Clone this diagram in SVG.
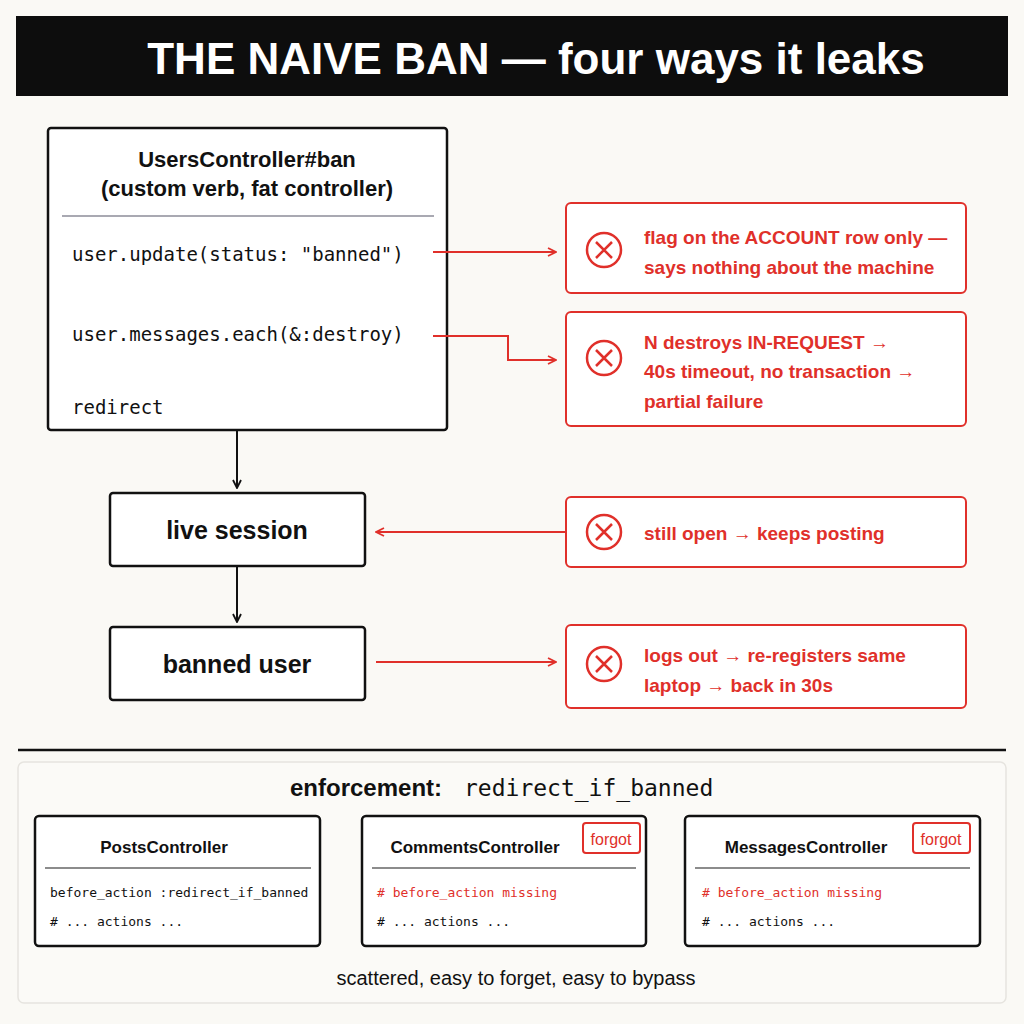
<svg xmlns="http://www.w3.org/2000/svg" width="1024" height="1024" viewBox="0 0 1024 1024">
<defs>
<marker id="ar" viewBox="0 0 10 10" refX="9" refY="5" markerWidth="10" markerHeight="10" markerUnits="userSpaceOnUse" orient="auto"><path d="M1,1 L9,5 L1,9" fill="none" stroke="#e0302a" stroke-width="1.8"/></marker>
<marker id="ak" viewBox="0 0 10 10" refX="9" refY="5" markerWidth="10" markerHeight="10" markerUnits="userSpaceOnUse" orient="auto"><path d="M1,1 L9,5 L1,9" fill="none" stroke="#111" stroke-width="1.8"/></marker>
<g id="xi"><circle r="17" fill="none" stroke="#e0302a" stroke-width="2.5"/><path d="M-8,-8 L8,8 M8,-8 L-8,8" stroke="#e0302a" stroke-width="2.5"/></g>
</defs>
<style>
.b{fill:#fff;stroke:#111;stroke-width:2.5}
.r{fill:#fff;stroke:#e0302a;stroke-width:2}
.t{font-family:"Liberation Sans",Arial,sans-serif;font-weight:bold;fill:#111}
.rt{font-family:"Liberation Sans",Arial,sans-serif;font-weight:bold;fill:#e0302a;font-size:19px}
.m{font-family:"DejaVu Sans Mono","Liberation Mono",monospace;fill:#111}
.c{fill:none;stroke-width:2}
</style>
<rect width="1024" height="1024" fill="#faf9f5"/>
<g id="title"><rect x="16" y="16" width="992" height="80" fill="#0d0d0d"/>
<text x="536" y="74" text-anchor="middle" class="t" font-size="44" style="fill:#fff">THE NAIVE BAN — four ways it leaks</text></g>
<g id="ban"><rect x="48" y="128" width="399" height="302" rx="3" class="b"/>
<text x="247" y="167" text-anchor="middle" class="t" font-size="22">UsersController#ban</text>
<text x="247" y="196" text-anchor="middle" class="t" font-size="22">(custom verb, fat controller)</text>
<line x1="62" y1="216" x2="434" y2="216" stroke="#556" stroke-width="1.2"/>
<text x="72" y="261" class="m" font-size="19">user.update(status: "banned")</text>
<text x="72" y="341" class="m" font-size="19">user.messages.each(&amp;:destroy)</text>
<text x="72" y="414" class="m" font-size="19">redirect</text></g>
<g id="live"><rect x="110" y="493" width="255" height="73" rx="3" class="b"/><text x="237" y="539" text-anchor="middle" class="t" font-size="25">live session</text></g>
<g id="banned"><rect x="110" y="627" width="255" height="73" rx="3" class="b"/><text x="237" y="673" text-anchor="middle" class="t" font-size="25">banned user</text></g>
<g id="l1"><rect x="566" y="203" width="400" height="90" rx="5" class="r"/><use href="#xi" x="604" y="250"/>
<text x="644" y="244" class="rt">flag on the ACCOUNT row only —</text><text x="644" y="274" class="rt">says nothing about the machine</text></g>
<g id="l2"><rect x="566" y="312" width="400" height="114" rx="5" class="r"/><use href="#xi" x="604" y="358"/>
<text x="644" y="349" class="rt">N destroys IN-REQUEST →</text><text x="644" y="378" class="rt">40s timeout, no transaction →</text><text x="644" y="408" class="rt">partial failure</text></g>
<g id="l3"><rect x="566" y="497" width="400" height="70" rx="5" class="r"/><use href="#xi" x="604" y="532"/>
<text x="644" y="540" class="rt">still open → keeps posting</text></g>
<g id="l4"><rect x="566" y="625" width="400" height="83" rx="5" class="r"/><use href="#xi" x="604" y="664"/>
<text x="644" y="662" class="rt">logs out → re-registers same</text><text x="644" y="692" class="rt">laptop → back in 30s</text></g>
<g id="connectors">
<path d="M433,252 H556" class="c" stroke="#e0302a" marker-end="url(#ar)"/>
<path d="M433,336 H508 V360 H556" class="c" stroke="#e0302a" marker-end="url(#ar)"/>
<path d="M566,532 H376" class="c" stroke="#e0302a" marker-end="url(#ar)"/>
<path d="M376,662 H556" class="c" stroke="#e0302a" marker-end="url(#ar)"/>
<path d="M237,430 V488" class="c" stroke="#111" marker-end="url(#ak)"/>
<path d="M237,566 V622" class="c" stroke="#111" marker-end="url(#ak)"/>
</g>
<g id="enf">
<line x1="18" y1="750" x2="1006" y2="750" stroke="#111" stroke-width="2.5"/>
<rect x="18" y="762" width="988" height="241" rx="6" fill="#fbfaf7" stroke="#e6e4df" stroke-width="1.5"/>
<text x="290" y="796" class="t" font-size="24">enforcement:</text><text x="464" y="796" class="m" font-size="23">redirect_if_banned</text>
<text x="516" y="985" text-anchor="middle" font-family="Liberation Sans,Arial,sans-serif" font-size="20" fill="#111">scattered, easy to forget, easy to bypass</text>
</g>
<g id="posts"><rect x="35" y="816" width="285" height="130" rx="4" class="b"/>
<text x="164" y="853" text-anchor="middle" class="t" font-size="17">PostsController</text>
<line x1="45" y1="868" x2="311" y2="868" stroke="#666" stroke-width="1.5"/>
<text x="50" y="897" class="m" font-size="13">before_action :redirect_if_banned</text>
<text x="50" y="926" class="m" font-size="13"># ... actions ...</text></g>
<g id="comments"><rect x="362" y="816" width="284" height="130" rx="4" class="b"/>
<text x="475" y="853" text-anchor="middle" class="t" font-size="17">CommentsController</text>
<rect x="583" y="823" width="57" height="30" rx="3" class="r" stroke-width="1.5"/><text x="611" y="845" text-anchor="middle" class="rt" style="font-weight:normal;font-size:16px">forgot</text>
<line x1="372" y1="868" x2="636" y2="868" stroke="#666" stroke-width="1.5"/>
<text x="377" y="897" class="m" font-size="13" style="fill:#e0302a"># before_action missing</text>
<text x="377" y="926" class="m" font-size="13"># ... actions ...</text></g>
<g id="messages"><rect x="685" y="816" width="295" height="130" rx="4" class="b"/>
<text x="806" y="853" text-anchor="middle" class="t" font-size="17">MessagesController</text>
<rect x="913" y="823" width="57" height="30" rx="3" class="r" stroke-width="1.5"/><text x="941" y="845" text-anchor="middle" class="rt" style="font-weight:normal;font-size:16px">forgot</text>
<line x1="695" y1="868" x2="970" y2="868" stroke="#666" stroke-width="1.5"/>
<text x="702" y="897" class="m" font-size="13" style="fill:#e0302a"># before_action missing</text>
<text x="702" y="926" class="m" font-size="13"># ... actions ...</text></g>
</svg>
